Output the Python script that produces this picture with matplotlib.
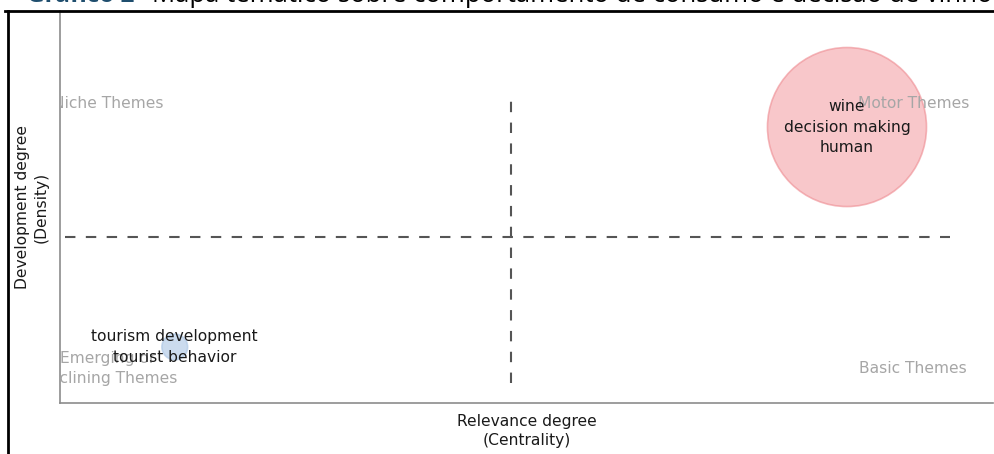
import numpy as np
import matplotlib
matplotlib.use("Agg")
import matplotlib.pyplot as plt
from matplotlib.lines import Line2D

# clusters of the thematic map
cluster_labels = ["wine\ndecision making\nhuman", "tourism development\ntourist behavior"]
centrality = [0.8435, 0.123]
density = [0.704, 0.143]
cluster_freq = [38, 1]
cluster_colors = ["#f4a3a8", "#a9c4e4"]
cluster_edges = ["#ee8a90", "#a9c4e4"]

quadrant_names = ["Niche Themes", "Motor Themes", "Emerging or\nDeclining Themes", "Basic Themes"]

fig = plt.figure(figsize=(9.95, 4.54), dpi=100)
W, H = 995, 454
ax = fig.add_axes([60 / W, 1 - 403 / H, (993 - 60) / W, (403 - 11) / H])
ax.set_xlim(0, 1)
ax.set_ylim(0, 1)

# bubbles
ax.scatter(centrality, density, s=np.array(cluster_freq) * 345, c=cluster_colors,
           edgecolors=cluster_edges, linewidths=1.2, alpha=0.6, zorder=2)

# mean lines
xm = np.mean(centrality)
ym = np.mean(density)
ax.plot([0.005, 0.954], [ym, ym], ls=(0, (5, 5)), color="#555555", lw=1.5, zorder=1)
ax.plot([xm, xm], [0.051, 0.773], ls=(0, (5, 5)), color="#555555", lw=1.5, zorder=1)

# quadrant names
qcol = "#a6a6a6"
fs = 11.2
ax.text(0.052, 0.764, quadrant_names[0], color=qcol, fontsize=fs, ha="center", va="center",
        clip_on=True, zorder=3)
ax.text(0.9148, 0.764, quadrant_names[1], color=qcol, fontsize=fs, ha="center", va="center",
        clip_on=True, zorder=3)
ax.text(0.051, 0.087, quadrant_names[2], color=qcol, fontsize=fs, ha="center", va="center",
        linespacing=1.4, clip_on=True, zorder=3)
ax.text(0.914, 0.087, quadrant_names[3], color=qcol, fontsize=fs, ha="center", va="center",
        clip_on=True, zorder=3)

# cluster labels
for x, y, lab in zip(centrality, density, cluster_labels):
    ax.text(x, y, lab, color="#1a1a1a", fontsize=fs, ha="center", va="center",
            linespacing=1.45, zorder=4)

ax.set_xticks([])
ax.set_yticks([])
for s in ["top", "right"]:
    ax.spines[s].set_visible(False)
for s in ["left", "bottom"]:
    ax.spines[s].set_color("#8c8c8c")
    ax.spines[s].set_linewidth(1.2)

ax.set_xlabel("Relevance degree\n(Centrality)", fontsize=fs, color="#1a1a1a", labelpad=8,
              linespacing=1.3)
ax.set_ylabel("Development degree\n(Density)", fontsize=fs, color="#1a1a1a", labelpad=8,
              linespacing=1.3)

# document frame
fig.add_artist(Line2D([5 / W, 1], [1 - 11 / H, 1 - 11 / H], color="black", lw=2))
fig.add_artist(Line2D([8 / W, 8 / W], [0, 1 - 11 / H], color="black", lw=2))

# cut-off caption
fig.text(27 / W, 1 - 1.5 / H, "Gráfico 2", fontsize=17.5, color="#1f4e6e", fontweight="bold",
         family="Open Sans", va="baseline")
fig.text(137 / W, 1 - 1.5 / H, "- Mapa temático sobre comportamento de consumo e decisão de vinho",
         fontsize=18.5, color="black", family="Open Sans", va="baseline")

fig.savefig("out.png", dpi=100)
